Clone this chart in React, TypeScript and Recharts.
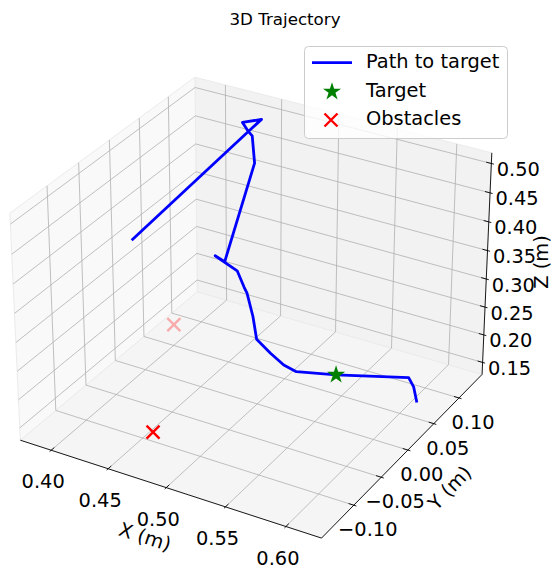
import { ScatterChart, Scatter, XAxis, YAxis } from 'recharts';

// axis limits (pane extents) and ticks
const xLimits = [0.3725, 0.629];
const yLimits = [-0.157, 0.147];
const zLimits = [0.128, 0.518];
const xTicks = [0.4, 0.45, 0.5, 0.55, 0.6];
const yTicks = [-0.1, -0.05, 0.0, 0.05, 0.1];
const zTicks = [0.15, 0.2, 0.25, 0.3, 0.35, 0.4, 0.45, 0.5];

// trajectory
const pathX = [0.388, 0.443, 0.430, 0.440, 0.443, 0.443, 0.448, 0.448, 0.437, 0.459, 0.472, 0.474, 0.487, 0.498, 0.511, 0.522, 0.531, 0.559, 0.608, 0.612, 0.613];
const pathY = [0.004, 0.101, 0.117, 0.131, 0.101, 0.108, 0.102, 0.048, 0.053, 0.048, 0.034, 0.035, 0.019, 0.003, 0.001, 0.002, 0.006, 0.019, 0.047, 0.048, 0.053];
const pathZ = [0.350, 0.493, 0.490, 0.490, 0.493, 0.480, 0.440, 0.310, 0.310, 0.300, 0.290, 0.280, 0.260, 0.240, 0.225, 0.210, 0.200, 0.200, 0.200, 0.185, 0.153];

const targetX = [0.559];
const targetY = [0.019];
const targetZ = [0.2];

const obstacleX = [0.480, 0.413];
const obstacleY = [-0.139, 0.026];
const obstacleZ = [0.195, 0.195];

const W = 551;
const H = 569;
const FONT = '"DejaVu Sans", sans-serif';
const ELEV = 30;
const AZIM = -60;
const DIST = 10;
const BOX_ASPECT = [4, 4, 3];
const PX_SCALE = 3020;
const ORIGIN = { x: 255.3, y: 297 };

const el = (ELEV * Math.PI) / 180;
const az = (AZIM * Math.PI) / 180;
const viewW = [Math.cos(el) * Math.cos(az), Math.cos(el) * Math.sin(az), Math.sin(el)];
const uLen = Math.hypot(viewW[0], viewW[1]);
const viewU = [-viewW[1] / uLen, viewW[0] / uLen, 0];
const viewV = [
    viewW[1] * viewU[2] - viewW[2] * viewU[1],
    viewW[2] * viewU[0] - viewW[0] * viewU[2],
    viewW[0] * viewU[1] - viewW[1] * viewU[0],
];
const aspectNorm = Math.hypot(...BOX_ASPECT);
const box = BOX_ASPECT.map((b) => (b * 1.8294640721620434) / aspectNorm);

function project(x: number, y: number, z: number, extra: Record<string, any> = {}) {
    const d = [
        ((x - xLimits[0]) / (xLimits[1] - xLimits[0]) - 0.5) * box[0],
        ((y - yLimits[0]) / (yLimits[1] - yLimits[0]) - 0.5) * box[1],
        ((z - zLimits[0]) / (zLimits[1] - zLimits[0]) - 0.5) * box[2],
    ];
    const dot = (a: number[]) => a[0] * d[0] + a[1] * d[1] + a[2] * d[2];
    const depth = DIST - dot(viewW);
    return { sx: dot(viewU) / depth, sy: dot(viewV) / depth, depth, ...extra };
}

const xDomain = [-ORIGIN.x / PX_SCALE, (W - ORIGIN.x) / PX_SCALE];
const yDomain = [(ORIGIN.y - H) / PX_SCALE, ORIGIN.y / PX_SCALE];

const [x0, x1] = xLimits;
const [y0, y1] = yLimits;
const [z0, z1] = zLimits;
const dxT = (x1 - x0) / 12;
const dyT = (y1 - y0) / 12;

const seg = (a: number[], b: number[]) => [project(a[0], a[1], a[2]), project(b[0], b[1], b[2])];

const panes = [
    { key: 'floor', fill: '#f5f5f5', pts: [[x0, y0, z0], [x1, y0, z0], [x1, y1, z0], [x0, y1, z0]] },
    { key: 'back', fill: '#f2f2f2', pts: [[x0, y1, z0], [x1, y1, z0], [x1, y1, z1], [x0, y1, z1]] },
    { key: 'left', fill: '#f9f9f9', pts: [[x0, y0, z0], [x0, y1, z0], [x0, y1, z1], [x0, y0, z1]] },
].map((p) => ({ ...p, data: p.pts.map((q) => project(q[0], q[1], q[2])) }));

const gridData = [
    ...xTicks.flatMap((t) => seg([t, y0, z0], [t, y1, z0])),
    ...yTicks.flatMap((t) => seg([x0, t, z0], [x1, t, z0])),
    ...xTicks.flatMap((t) => seg([t, y1, z0], [t, y1, z1])),
    ...zTicks.flatMap((t) => seg([x0, y1, t], [x1, y1, t])),
    ...yTicks.flatMap((t) => seg([x0, t, z0], [x0, t, z1])),
    ...zTicks.flatMap((t) => seg([x0, y0, t], [x0, y1, t])),
];

const axisData = [
    ...seg([x0, y0, z0], [x1, y0, z0]),
    ...seg([x1, y0, z0], [x1, y1, z0]),
    ...seg([x1, y1, z0], [x1, y1, z1]),
    ...xTicks.flatMap((t) => seg([t, y0 + 0.2 * dyT, z0], [t, y0 - 0.1 * dyT, z0])),
    ...yTicks.flatMap((t) => seg([x1 - 0.2 * dxT, t, z0], [x1 + 0.1 * dxT, t, z0])),
    ...zTicks.flatMap((t) => seg([x1 - 0.2 * dxT, y1, t], [x1 + 0.1 * dxT, y1, t])),
];

const fmt = (v: number) => v.toFixed(2).replace('-', '\u2212');
const tickLabels = [
    ...xTicks.map((t) => project(t, y0, z0, { label: fmt(t), dx: -8, dy: 38 })),
    ...yTicks.map((t) => project(x1, t, z0, { label: fmt(t), dx: 14, dy: 31 })),
    ...zTicks.map((t) => project(x1, y1, t, { label: fmt(t), dx: 27, dy: 12.5 })),
];

const pathData = pathX.map((x, i) => project(x, pathY[i], pathZ[i]));
const targetData = targetX.map((x, i) => project(x, targetY[i], targetZ[i]));
const obstacleRaw = obstacleX.map((x, i) => project(x, obstacleY[i], obstacleZ[i]));
const dMin = Math.min(...obstacleRaw.map((p) => p.depth));
const dMax = Math.max(...obstacleRaw.map((p) => p.depth));
const obstacleData = obstacleRaw.map((p) => ({
    ...p,
    alpha: dMax > dMin ? 1 - (0.7 * (p.depth - dMin)) / (dMax - dMin) : 1,
}));

const segments = (stroke: string, strokeWidth: number) => (props: any) => {
    const pts = props.points || [];
    let d = '';
    for (let i = 0; i + 1 < pts.length; i += 2) {
        d += `M${pts[i].x},${pts[i].y}L${pts[i + 1].x},${pts[i + 1].y}`;
    }
    return <path d={d} stroke={stroke} strokeWidth={strokeWidth} fill="none" />;
};

const polygon = (fill: string) => (props: any) => {
    const pts = props.points || [];
    const d = pts.map((p: any, i: number) => `${i === 0 ? 'M' : 'L'}${p.x},${p.y}`).join('') + 'Z';
    return <path d={d} fill={fill} stroke="#ebebeb" strokeWidth={1} />;
};

const noShape = () => <g />;

function starPoints(cx: number, cy: number, r: number) {
    const pts: string[] = [];
    for (let i = 0; i < 10; i++) {
        const rr = i % 2 === 0 ? r : r * 0.382;
        const a = -Math.PI / 2 + (i * Math.PI) / 5;
        pts.push(`${cx + rr * Math.cos(a)},${cy + rr * Math.sin(a)}`);
    }
    return pts.join(' ');
}

function Cross({ cx, cy, half = 6.5, opacity = 1 }: { cx: number; cy: number; half?: number; opacity?: number }) {
    return (
        <path
            d={`M${cx - half},${cy - half}L${cx + half},${cy + half}M${cx - half},${cy + half}L${cx + half},${cy - half}`}
            stroke="#ff0000"
            strokeWidth={2.4}
            strokeOpacity={opacity}
            fill="none"
        />
    );
}

export default function App() {
    return (
        <div style={{ position: 'absolute', left: 0, top: 0, width: W, height: H, fontFamily: FONT, background: '#fff' }}>
            <ScatterChart width={W} height={H} margin={{ top: 0, right: 0, bottom: 0, left: 0 }}>
                <XAxis type="number" dataKey="sx" domain={xDomain} hide allowDataOverflow />
                <YAxis type="number" dataKey="sy" domain={yDomain} hide allowDataOverflow />
                {panes.map((p) => (
                    <Scatter key={p.key} data={p.data} line={polygon(p.fill)} shape={noShape} isAnimationActive={false} />
                ))}
                <Scatter data={gridData} line={segments('#b0b0b0', 0.8)} shape={noShape} isAnimationActive={false} />
                <Scatter data={axisData} line={segments('#000000', 0.9)} shape={noShape} isAnimationActive={false} />
                <Scatter
                    data={tickLabels}
                    shape={(p: any) => (
                        <text
                            x={p.cx + p.payload.dx}
                            y={p.cy + p.payload.dy}
                            textAnchor="middle"
                            fontSize={19.4}
                            fontFamily={FONT}
                            fill="#000"
                        >
                            {p.payload.label}
                        </text>
                    )}
                    isAnimationActive={false}
                />
                <Scatter
                    data={obstacleData}
                    shape={(p: any) => <Cross cx={p.cx} cy={p.cy} opacity={p.payload.alpha} />}
                    isAnimationActive={false}
                />
                <Scatter
                    data={pathData}
                    line={{ stroke: '#0000ff', strokeWidth: 2.8, strokeLinejoin: 'round' }}
                    shape={noShape}
                    isAnimationActive={false}
                />
                <Scatter
                    data={targetData}
                    shape={(p: any) => <polygon points={starPoints(p.cx, p.cy, 9.5)} fill="#008000" />}
                    isAnimationActive={false}
                />
            </ScatterChart>
            <svg width={W} height={H} style={{ position: 'absolute', left: 0, top: 0, pointerEvents: 'none' }}>
                <text x={285} y={25} textAnchor="middle" fontSize={16.7} fontFamily={FONT}>
                    3D Trajectory
                </text>
                <text x={145} y={537} textAnchor="middle" dominantBaseline="central" fontSize={19.4} fontFamily={FONT} transform="rotate(18 145 537)">
                    X (m)
                </text>
                <text x={450} y={488} textAnchor="middle" dominantBaseline="central" fontSize={19.4} fontFamily={FONT} transform="rotate(-46 450 488)">
                    Y (m)
                </text>
                <text x={541} y={262} textAnchor="middle" dominantBaseline="central" fontSize={19.4} fontFamily={FONT} transform="rotate(-90 541 262)">
                    Z (m)
                </text>
                <rect x={304.5} y={46.5} width={203} height={92} rx={4} fill="#ffffff" fillOpacity={0.8} stroke="#cccccc" />
                <line x1={312} y1={62.7} x2={352} y2={62.7} stroke="#0000ff" strokeWidth={2.8} />
                <polygon points={starPoints(332, 91.7, 9.5)} fill="#008000" />
                <Cross cx={331} cy={120} />
                <text x={366} y={67.5} fontSize={19.4} fontFamily={FONT}>Path to target</text>
                <text x={366} y={96.5} fontSize={19.4} fontFamily={FONT}>Target</text>
                <text x={366} y={125} fontSize={19.4} fontFamily={FONT}>Obstacles</text>
            </svg>
        </div>
    );
}
